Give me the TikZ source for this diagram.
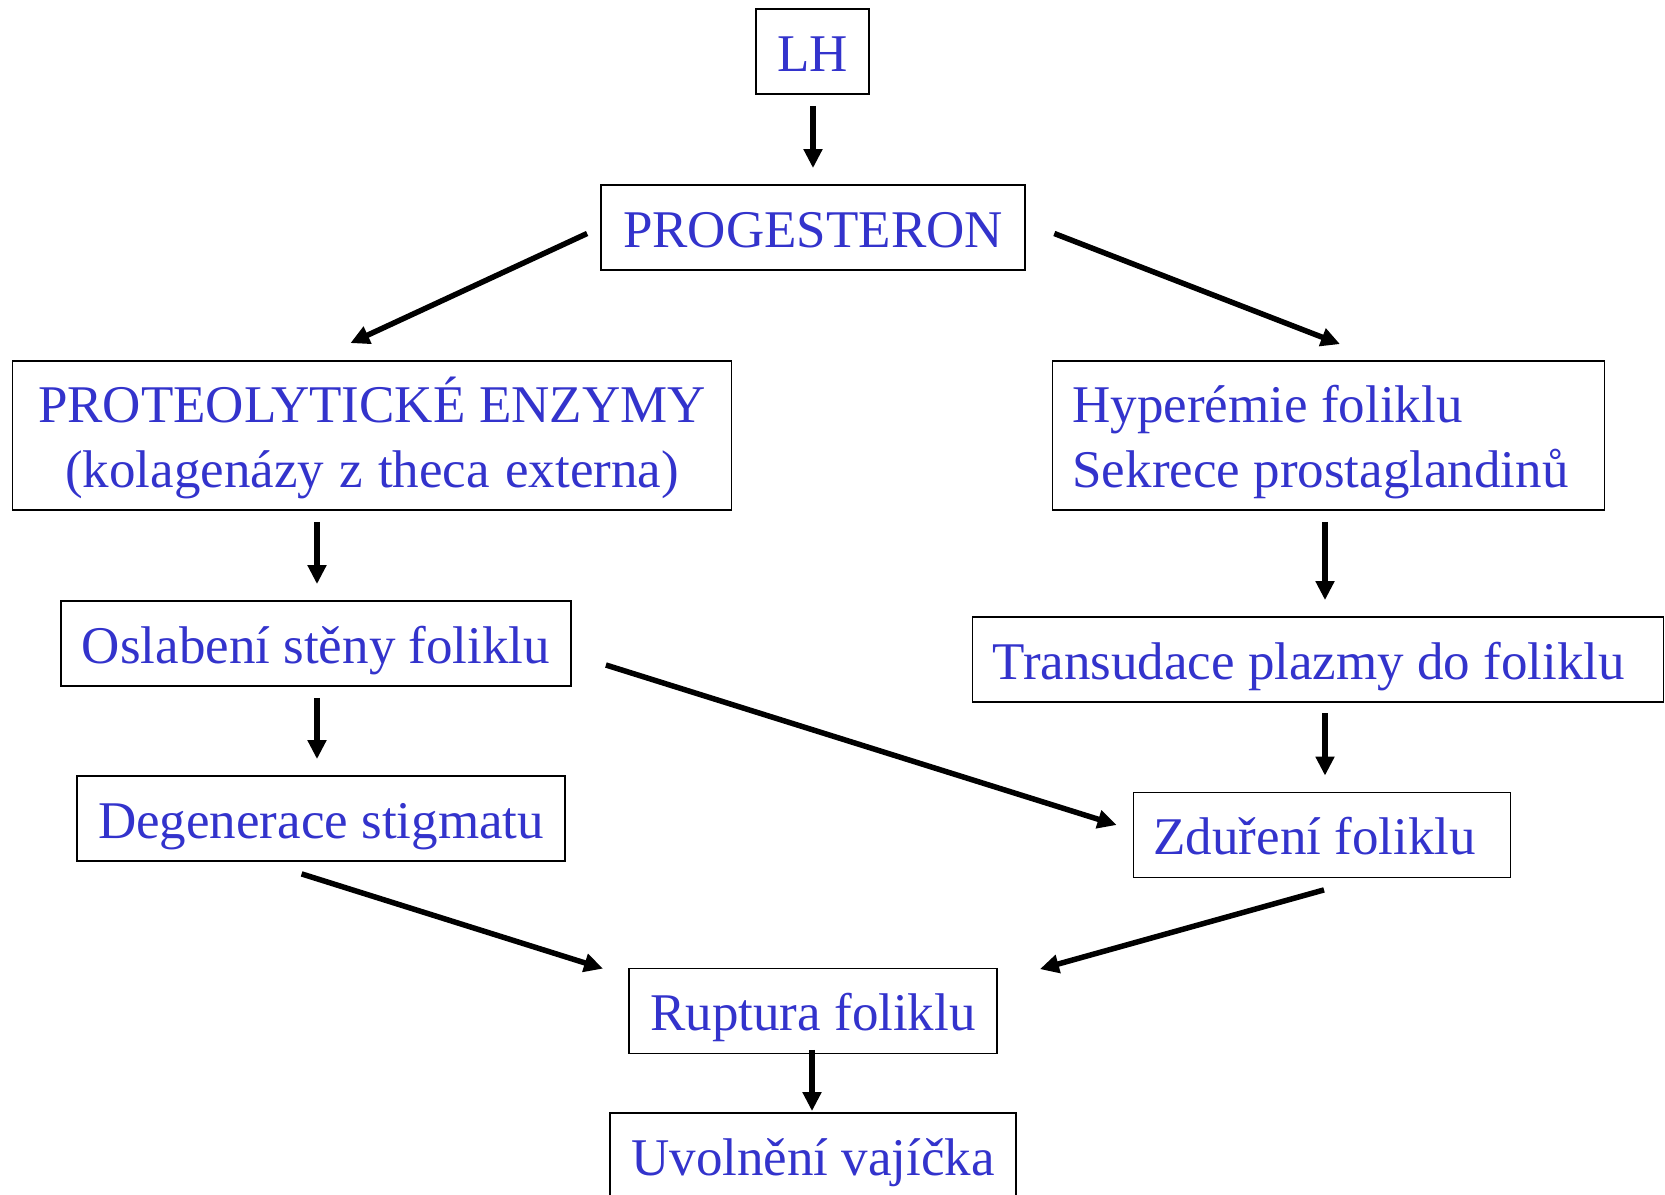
\documentclass[tikz,border=0pt]{standalone}
\usepackage{fontspec}
\setmainfont{Liberation Serif}
\usepackage{tikz}
\usetikzlibrary{arrows.meta}
\definecolor{textBlue}{RGB}{51,51,204}

\begin{document}
\begin{tikzpicture}[
							x=0.5pt, y=-0.5pt,
							nodeBox/.style={rectangle, draw=black, line width=0.9pt, fill=white, text=textBlue, font=\fontsize{26.5}{32.3}\selectfont, inner xsep=10pt, inner ysep=0pt, text height=19.5pt, text depth=0pt, minimum height=42.5pt, execute at begin node={\spaceskip=0pt\xspaceskip=0pt\relax}},
							nodeBoxTwo/.style={nodeBox, text depth=32.3pt, minimum height=74.5pt},
							arrowLine/.style={-{Triangle[length=9.5pt, width=9pt]}, line width=2.75pt, black}
						]
						
						\useasboundingbox (0,0) rectangle (1665,1194);
						
						\node[nodeBox, minimum width=56.5pt] (nodeLH) at (812.5, 51.5) {LH};
						\node[nodeBox, minimum width=212pt] (nodeProg) at (813, 227.5) {PROGESTERON};
						\node[nodeBoxTwo, text width=339.5pt, align=center] (nodeProteo) at (372, 435.5) {PROTEOLYTICKÉ ENZYMY\\(kolagenázy z theca externa)};
						\node[nodeBoxTwo, text width=256pt, align=left] (nodeHyper) at (1328.5, 435.5) {Hyperémie foliklu\\Sekrece prostaglandinů};
						\node[nodeBox, minimum width=255pt] (nodeOslab) at (316, 643.5) {Oslabení stěny foliklu};
						\node[nodeBox, text width=325.5pt, align=left] (nodeTransud) at (1318, 659.5) {Transudace plazmy do foliklu};
						\node[nodeBox, minimum width=244pt] (nodeDegen) at (321, 818.5) {Degenerace stigmatu};
						\node[nodeBox, text width=168.5pt, align=left] (nodeZdur) at (1322, 835) {Zduření foliklu};
						\node[nodeBox, minimum width=184pt] (nodeRupt) at (813, 1011) {Ruptura foliklu};
						\node[nodeBox, minimum width=203pt] (nodeUvol) at (813, 1155.5) {Uvolnění vajíčka};
						
						\draw [arrowLine] ([shift={(0.5,11)}]nodeLH.south) to ([shift={(0,-16)}]nodeProg.north);
						\draw [arrowLine] ([shift={(-13,6)}]nodeProg.west) to ([shift={(-21.6,-17)}]nodeProteo.north);
						\draw [arrowLine] ([shift={(28.4,6)}]nodeProg.east) to ([shift={(11.5,-16)}]nodeHyper.north);
						\draw [arrowLine] ([shift={(-55,11)}]nodeProteo.south) to ([shift={(1,-16)}]nodeOslab.north);
						\draw [arrowLine] ([shift={(1,11)}]nodeOslab.south) to ([shift={(-4,-16)}]nodeDegen.north);
						\draw [arrowLine] ([shift={(-3.5,11)}]nodeHyper.south) to ([shift={(7,-16)}]nodeTransud.north);
						\draw [arrowLine] ([shift={(7,10.5)}]nodeTransud.south) to ([shift={(3,-16)}]nodeZdur.north);
						\draw [arrowLine] ([shift={(34,21.5)}]nodeOslab.east) to ([shift={(-16,-10)}]nodeZdur.west);
						\draw [arrowLine] ([shift={(-19.4,12)}]nodeDegen.south) to ([shift={(-25,1)}]nodeRupt.north west);
						\draw [arrowLine] ([shift={(2,11.5)}]nodeZdur.south) to ([shift={(42,1.5)}]nodeRupt.north east);
						\draw [arrowLine] ([shift={(-1,-4.5)}]nodeRupt.south) to ([shift={(-1,-1)}]nodeUvol.north);
					\end{tikzpicture}
\end{document}
